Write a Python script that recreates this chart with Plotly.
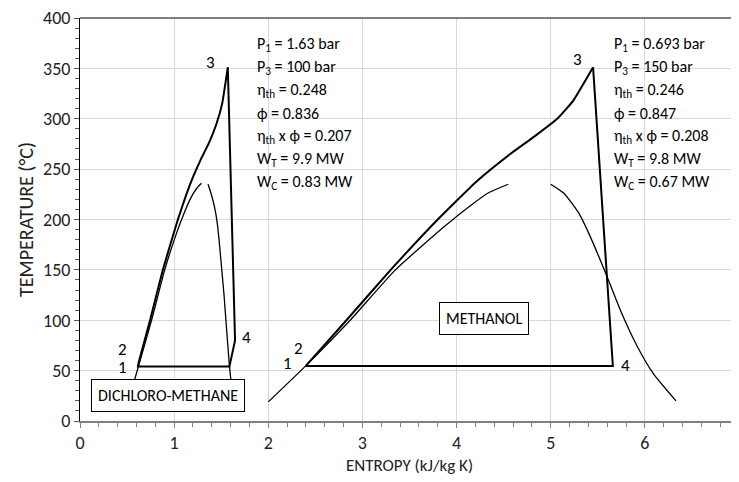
import plotly.graph_objects as go

# ---------------- data ----------------
# Dichloromethane saturation dome (entropy kJ/kg K, temperature °C)
dcm_liq_s = [0.574, 0.62, 0.76, 0.90, 1.02, 1.10, 1.18, 1.24, 1.29]
dcm_liq_t = [39, 54, 100, 150, 185, 205, 222, 231, 236]
dcm_vap_s = [1.36, 1.385, 1.43, 1.46, 1.485, 1.506, 1.53, 1.55, 1.587, 1.605]
dcm_vap_t = [235, 228, 212, 195, 172, 150, 125, 100, 55, 39]
# Dichloromethane cycle: heating 2->3, then 3->4->condensation->1->2
dcm_heat_s = [0.62, 0.744, 0.88, 1.04, 1.13, 1.20, 1.28, 1.37, 1.45, 1.51, 1.57]
dcm_heat_t = [57, 100, 150, 200, 225, 242, 259, 276, 295, 315, 351]
dcm_cyc_s = [1.57, 1.647, 1.587, 0.615, 0.62]
dcm_cyc_t = [351, 80, 54, 54, 57]

# Methanol saturation dome
meoh_liq_s = [2.0, 2.40, 2.87, 3.35, 3.87, 4.15, 4.35, 4.55]
meoh_liq_t = [19, 55, 100, 150, 193, 214, 227, 235]
meoh_vap_s = [5.0, 5.14, 5.30, 5.42, 5.60, 5.74, 5.92, 6.09, 6.33]
meoh_vap_t = [235, 226, 206, 183, 143, 110, 74, 47, 20]
# Methanol cycle
meoh_heat_s = [2.41, 2.83, 3.30, 3.80, 4.215, 4.57, 4.82, 5.07, 5.24, 5.45]
meoh_heat_t = [56, 100, 150, 200, 238, 265, 282, 300, 318, 351]
meoh_cyc_s = [5.45, 5.66, 2.40, 2.41]
meoh_cyc_t = [351, 54.6, 54.6, 56]

dcm_text = ["P<sub>1</sub> = 1.63 bar", "P<sub>3</sub> = 100 bar", "η<sub>th</sub> = 0.248",
            "ϕ = 0.836", "η<sub>th</sub> x ϕ = 0.207", "W<sub>T</sub> = 9.9 MW", "W<sub>C</sub> = 0.83 MW"]
meoh_text = ["P<sub>1</sub> = 0.693 bar", "P<sub>3</sub> = 150 bar", "η<sub>th</sub> = 0.246",
             "ϕ = 0.847", "η<sub>th</sub> x ϕ = 0.208", "W<sub>T</sub> = 9.8 MW", "W<sub>C</sub> = 0.67 MW"]

FONT = "Carlito, Lato, 'Open Sans', sans-serif"

fig = go.Figure()

def add_line(xs, ys, width, shape, smoothing=0.5):
    fig.add_trace(go.Scatter(x=xs, y=ys, mode="lines", showlegend=False, hoverinfo="skip",
                             line=dict(color="black", width=width, shape=shape, smoothing=smoothing)))

add_line(dcm_liq_s, dcm_liq_t, 1.3, "spline")
add_line(dcm_vap_s, dcm_vap_t, 1.3, "spline")
add_line(dcm_heat_s, dcm_heat_t, 2, "spline", 0.4)
add_line(dcm_cyc_s, dcm_cyc_t, 2, "linear")
add_line(meoh_liq_s, meoh_liq_t, 1.3, "spline")
add_line(meoh_vap_s, meoh_vap_t, 1.3, "spline")
add_line(meoh_heat_s, meoh_heat_t, 2, "spline", 0.4)
add_line(meoh_cyc_s, meoh_cyc_t, 2, "linear")

ann = []
step = 22.8
for i, t in enumerate(dcm_text):
    ann.append(dict(x=1.86, y=373.5 - i * step, text=t, xanchor="left", yanchor="middle",
                    showarrow=False, font=dict(size=16, color="black", family=FONT)))
for i, t in enumerate(meoh_text):
    ann.append(dict(x=5.65, y=373.5 - i * step, text=t, xanchor="left", yanchor="middle",
                    showarrow=False, font=dict(size=16, color="black", family=FONT)))

pts = [("1", 0.45, 53), ("2", 0.45, 71), ("3", 1.39, 356), ("4", 1.77, 83),
       ("1", 2.2, 57), ("2", 2.32, 72), ("3", 5.28, 359), ("4", 5.79, 55)]
for txt, x, y in pts:
    ann.append(dict(x=x, y=y, text=txt, showarrow=False,
                    font=dict(size=17, color="black", family=FONT)))

ann.append(dict(x=0.935, y=25, text="DICHLORO-METHANE", showarrow=False, bgcolor="white",
                bordercolor="black", borderwidth=1, borderpad=6,
                font=dict(size=16, color="black", family=FONT)))
ann.append(dict(x=4.29, y=102, text="METHANOL", showarrow=False, bgcolor="white",
                bordercolor="black", borderwidth=1, borderpad=6,
                font=dict(size=16, color="black", family=FONT)))

# page body has an 8px margin, so the figure's margins are shifted to compensate
fig.update_layout(
    width=739, height=482,
    margin=dict(l=72, r=8, t=10, b=69),
    plot_bgcolor="white", paper_bgcolor="white",
    annotations=ann,
    font=dict(family=FONT, color="black"),
    shapes=[dict(type="line", xref="paper", yref="paper", x0=0, x1=1, y0=1, y1=1,
                 line=dict(color="black", width=1.2))],
)
fig.update_xaxes(range=[0, 7], dtick=1, tick0=0, showgrid=True, gridcolor="#d9d9d9", gridwidth=1,
                 showline=True, linecolor="#808080", linewidth=1.5, ticks="outside", ticklen=5,
                 tickcolor="#808080", zeroline=False, automargin=False, ticklabeloverflow="allow",
                 minor=dict(dtick=0.2, ticks="outside", ticklen=4, tickcolor="#808080", showgrid=False),
                 tickfont=dict(size=18, color="#222", family=FONT),
                 title=dict(text="ENTROPY (kJ/kg K)", font=dict(size=17, color="#222", family=FONT), standoff=6))
fig.update_yaxes(range=[0, 400], dtick=50, tick0=0, showgrid=True, gridcolor="#d9d9d9", gridwidth=1,
                 showline=True, linecolor="black", linewidth=1, ticks="outside", ticklen=5,
                 tickcolor="#555", zeroline=False, automargin=False, ticklabeloverflow="allow",
                 minor=dict(dtick=10, ticks="outside", ticklen=4, tickcolor="#555", showgrid=False),
                 tickfont=dict(size=18, color="#222", family=FONT),
                 title=dict(text="TEMPERATURE (°C)", font=dict(size=20, color="#222", family=FONT), standoff=4))

fig.write_html("out.html")
